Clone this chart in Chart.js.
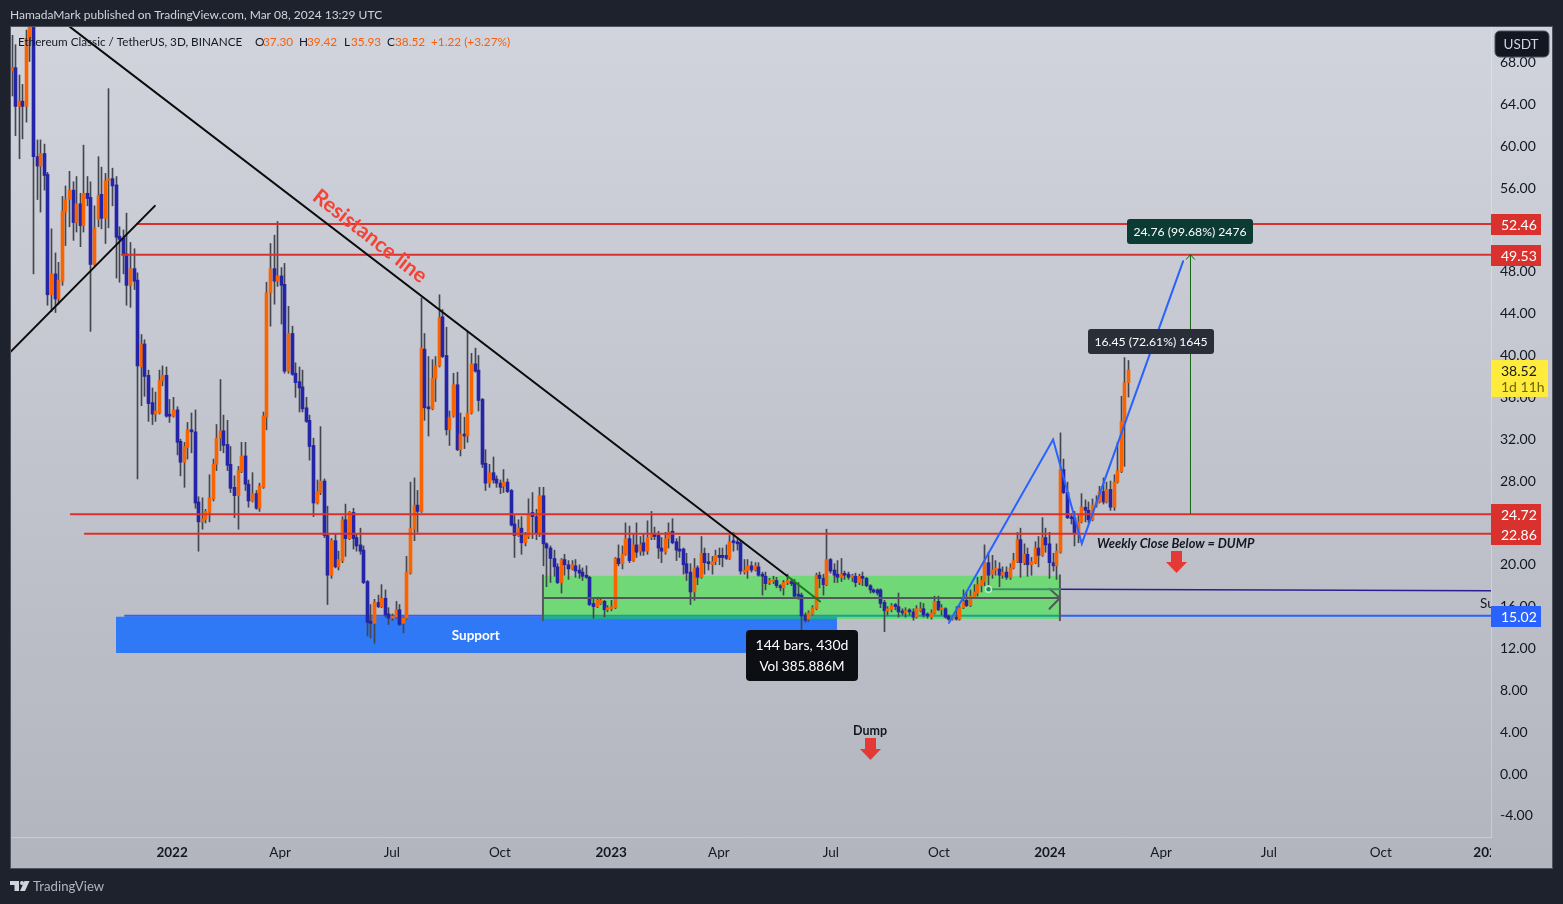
<!DOCTYPE html>
<html><head><meta charset="utf-8">
<script src="https://cdn.jsdelivr.net/npm/chart.js@4"></script>
<style>html,body{margin:0;padding:0;background:#1e222d;overflow:hidden}canvas{display:block}</style>
</head><body><canvas id="c" width="1563" height="904"></canvas>
<script>
const barOpen=[
67.1,67.4,63.7,64.2,63.7,70.2,73.5,58.9,58,59.2,
57.2,45.7,47.7,45.3,47,53.6,54.8,55.7,52.6,54.4,
52.3,55.4,55,48.6,52.9,55.3,53,56.6,56.8,56.2,
51.3,51.1,49.6,46.6,48.2,47.1,38.8,41,38,35.4,
34.3,34.4,37.5,38,34.2,34.1,34.7,31.7,29.7,31.1,
32.8,32.6,25.9,24,24.2,24.9,26.2,29.5,32,32.7,
31.4,29.5,27.3,26.5,28.8,30.3,27.6,26,26.7,25.3,
27.3,34,45.9,48.2,47,47.5,46.7,38.4,42,38.2,
37.4,36.9,34.9,33.7,31.3,25.8,26.8,27.9,22.7,18.9,
22.2,19.7,20.3,24.2,22.4,24.9,22.5,21.8,21.3,18.3,
14.5,14.3,16.3,15.9,16.7,15.2,14.8,14.9,15.6,14.3,
14.8,19.1,23.3,25.6,25,40.5,35,34.8,37.7,38.9,
43.6,39.9,32.8,34.1,37.1,30.9,32.4,32.2,34.4,39.1,
38.5,35.7,29.6,27.7,28.7,28.1,27.7,27.4,27.8,27,
23.8,22.7,23.4,22,22.6,24.9,24.5,22.9,26.5,21.9,
21.5,20.5,19.7,18.2,20.4,19.9,19.5,19.8,19.4,19.2,
18.9,18.7,16.2,15.9,16.2,16.4,15.6,15.7,15.8,20.5,
20,20.9,22.4,20.3,21.8,21.2,22,21.2,22.5,22.9,
22.7,21.5,21.1,22.4,23.1,22.1,21.4,21.4,20,19.2,
17.3,19.6,18.7,21,20.2,19.9,20.2,20.8,20.8,20.8,
20.5,22.2,22.1,22,19.2,19.3,19.8,19.4,19.7,18.9,
18.8,18.2,18.3,18.4,17.9,17.7,18.2,18.3,18.2,16.95,
17,15.1,14.7,15.2,15.7,18.9,18.6,18,20.4,19.4,
19,18.7,19,19,18.7,18.8,18.2,18.8,18.6,17.9,
17.5,17.5,17.5,16.3,15.5,15.6,16.1,15.9,15.4,15.3,
15.5,15.4,14.9,15.7,15.7,15.1,14.9,15.3,16.4,15.6,
15.7,15,14.7,14.8,14.7,15.8,16.5,16,16.8,17.2,
17.9,18.3,20.1,19,19.4,19.5,18.9,19.2,18.7,19.6,
20.2,22.3,20.1,20.9,19.9,20.1,21.5,20.8,22.5,21.9,
20.1,19.8,21.1,29,26.8,24.4,24.4,22.9,24,25.4,
25.1,24.2,25.6,25.9,26.9,25.9,27.1,25.4,27.8,28.8,
33.5,37.3];
const barClose=[
67.4,63.7,64.2,63.7,70.2,73.5,58.9,58,59.2,57.1,
45.7,47.7,45.3,47.1,53.7,54.8,55.7,52.6,54.4,52.3,
55.4,54.9,48.6,52.1,55.2,53,56.6,56.8,56.1,51.2,
51,49.5,46.6,48.2,47,38.9,41,37.9,35.3,34.3,
34.6,37.5,38,34.1,34.1,34.7,31.6,29.7,31.2,32.8,
32.6,25.8,24,24.3,25,26.3,29.5,32,32.7,31.3,
29.4,27.2,26.5,28.9,30.3,27.6,26,26.7,25.3,27.4,
34.1,45.9,48.2,47,47.5,46.6,38.4,42,38.1,37.3,
36.8,34.8,33.6,31.2,25.8,26.9,27.9,22.7,18.9,22.2,
19.7,20.4,24.2,22.4,24.9,22.4,21.7,21.2,18.2,14.4,
14.3,16.3,15.9,16.7,15.1,14.8,14.95,15.6,14.2,14.8,
19.2,23.4,25.6,25,40.6,34.9,34.8,37.7,38.9,43.5,
39.8,32.8,34,37.1,30.9,32.4,32.2,34.4,39.1,38.4,
35.6,29.5,27.7,28.7,28,27.7,27.3,27.8,26.9,23.7,
22.7,23.4,22,22.7,24.8,24.5,22.9,26.5,21.9,21.5,
20.5,19.7,18.2,20.4,19.9,19.5,19.9,19.3,19.1,18.8,
18.7,16.1,15.9,16.5,16.5,15.6,15.7,15.9,20.5,20,
20.9,22.4,20.3,21.8,21.1,21.8,21.2,22.5,22.9,22.6,
21.5,21.2,22.4,23,22,21.3,21.2,19.9,19.1,17.3,
19.6,18.7,21,20.1,20,20.2,20.8,20.6,20.6,20.5,
22.1,22,21.9,19.3,19.3,19.8,19.4,19.8,18.9,18.8,
18.1,18.3,18.4,17.9,17.7,18.2,18.3,18.1,16.9,16.9,
15,14.6,15.3,15.8,18.9,18.6,18,20.4,19.3,18.9,
18.7,19,18.9,18.7,18.8,18.2,18.8,18.6,17.9,17.5,
17.3,17.2,16.2,15.5,15.6,16,15.9,15.4,15.3,15.5,
15.4,14.9,15.7,15.7,15.1,15,15.3,16.4,15.6,15.7,
14.9,14.7,14.8,14.7,15.8,16.4,16,16.9,17.3,18,
18.4,20.1,18.9,19.4,19.5,18.9,19.2,18.7,19.6,20.3,
22.3,20.1,20.9,19.9,20.2,21.5,20.8,22.5,21.8,20.1,
19.8,21.2,29,26.8,24.4,24.3,22.9,24,25.4,25.1,
24.2,25.6,25.9,26.9,25.9,27.1,25.4,27.8,28.9,33.6,
37.3,38.52];
const barHigh=[
70.5,69.6,66.7,65.8,71,75,76,60.5,60.5,60.1,
57.4,52,49.7,48.8,55.1,56.1,57.5,56.5,57,55.4,
60,57,56.5,54.2,58.9,57.9,57.3,65.4,57.8,57,
52.2,51.9,53.5,50.7,50.1,47.8,41.9,41.4,38.5,36.8,
36.4,38.5,38.9,38.8,35.7,35.9,35,31.9,31.6,33.5,
34.4,34.7,26.4,26.3,25.2,28.5,30,33.3,37.6,34.2,
33.7,31.2,28.4,29.3,31.6,31.6,28,28.7,27,27.7,
34.5,46.9,50.6,51.4,52.7,48.3,48.7,44.6,42.7,39.2,
38.8,38.5,35.9,34.2,32,28,33.1,28.1,25.5,22.4,
22.9,21.2,24.5,25.7,25,25.3,22.8,23.4,21.7,18.4,
16.1,16.6,17,18,17.5,15.8,15.2,16.4,16.1,14.9,
20.7,27.8,28.2,27,45.4,42,39.8,39.5,39.8,45.7,
44.3,42.6,34.6,38.2,38.3,34.4,34,42.2,40.1,40.6,
39.9,35.8,30.9,29.5,30.2,28.4,28,29,28.1,27.1,
24.6,24.2,24.5,23,26.2,26.8,25.2,27.3,27.3,22,
21.7,21.3,20,20.5,20.9,20.3,20.3,20.4,19.9,19.6,
19.8,18.8,16.6,16.8,16.6,16.5,16,16.5,20.6,21.8,
21.7,23.9,23.6,22.8,23.9,22.6,22.9,24.1,25,23.5,
23.1,22.5,23,23.9,24.3,22.4,22.6,21.5,21,20,
20.5,19.8,22.6,21.5,21,20.7,21.3,21.5,21.5,21.8,
22.7,23,22.5,22.2,20.4,20.4,20.2,20.1,20.1,19.2,
19.2,18.6,18.8,18.7,18,18.4,19,18.6,18.5,18.2,
17.2,15.3,15.5,16,19.1,19.2,19,23.3,20.5,20,
20.3,20.5,19.3,19.2,19,19.1,19,19.2,18.7,18,
17.6,17.6,17.6,16.5,15.9,16.2,16.2,17.2,15.7,15.8,
15.7,15.7,16,16.3,16.2,15.3,15.6,16.9,16.9,16.1,
15.8,15.1,14.9,15.9,16,17.5,17.3,17.5,18,18.7,
18.8,21.8,21.1,20.8,20.3,20.1,19.7,19.7,20,21,
23,23.4,21.9,21.5,20.6,22.1,22.6,24.4,23.4,23,
21,21.9,32.5,30,27.8,24.8,25,24.6,26.7,26.1,
25.9,26.2,26.5,27.4,28.2,27.8,27.9,28.5,31.6,36,
39.7,39.42];
const barLow=[
64.7,60.9,58.7,60.6,62.2,68,47.7,54.8,53.6,55.7,
44.7,44.1,44,44.8,46.6,50.4,52.2,50.9,51.7,50.3,
51.7,54.2,42.2,48.5,52.2,52,50.6,52.1,54.2,47.3,
46.9,47.7,44.7,44.5,46.2,28.1,35.1,36,33.6,33.3,
33.6,34.3,37,34,33.5,34,30.4,28.4,27.3,30,
30.6,25.3,21.2,23.3,23.9,24,26,28.9,30.8,30.6,
28.9,26.8,24.4,23.3,28.7,27,25.4,25.9,25.2,25,
27.2,32.8,42.7,44.8,46.5,42.9,38.2,38.2,38,35.9,
34.5,34.5,33.5,29.9,24.5,25.7,26.6,22.5,16.1,18.6,
19.6,19.4,20.1,20.7,22.3,21.4,21.2,20.9,18.1,13.1,
12.9,12.4,15.8,15.8,14.9,14.2,14.6,14.8,14.1,13.4,
14.7,19,22.2,23,24.9,33.7,32.2,34.7,35.5,38.8,
39.7,32.3,31.3,34,30.8,30.3,31,31.6,34.3,38.3,
34.6,29.2,27,27.3,27.7,27.3,26.7,26.8,26.8,23.6,
20.6,22.6,20.9,21.7,22.4,22.4,22.3,22.6,19.8,17.8,
18.2,18.8,18.1,17.2,18.9,18.5,19.4,18.7,18.6,18.4,
18.6,16,14.8,15.8,16.1,14.9,15.4,15.5,15.7,19.8,
19.5,20.8,20.1,20.2,20.6,20.8,20.8,20.9,22.3,22.3,
20.5,20.1,20.9,21.5,21.9,20.3,20.6,19,18.4,16.1,
16.5,18,18.6,19,19.4,19,19.9,19.9,19.7,20.4,
20.4,21.2,21.3,19,19,18.6,19.2,19.3,18.8,17,
17.5,18,18.1,17.7,17.4,17,18,17.9,16.8,16.6,
12.7,14.4,14.5,15.1,15.6,17.7,17,17.9,19.1,18.2,
18.2,18.3,18.5,18.5,18.3,17.8,18,17.9,17.8,17.2,
17.2,17,15.8,13.5,15.1,15.4,15.6,14.9,15.1,14.9,
15.1,14.6,14.8,15.4,14.9,14.8,14.7,15.2,15.5,15.1,
14.8,14.6,14.6,14.6,14.6,15.7,15.9,15.9,16.7,16.9,
17.3,17.9,18,18.6,18.9,17.8,18.6,18.5,18.5,19.5,
20.1,18.7,19.9,18.8,18.9,20,19.7,20.7,21.1,18.6,
19.3,18.5,21,26.7,24.3,23.8,21.7,22,23.9,24,
23.9,24.1,25.4,25.8,25.7,25.8,25.1,25.1,27.7,28.7,
29.3,35.93];

// axes (x is counted in 3-day bars from the first visible bar)
const xTickLabels=['2022','Apr','Jul','Oct','2023','Apr','Jul','Oct','2024','Apr','Jul','Oct'];
const xTickBars=[44.6,74.7,105.8,135.9,166.9,196.9,228.1,258.2,289.1,320.1,350.1,381.3];
const yTickValues=[68,64,60,56,52,48,44,40,36,32,28,24,20,16,12,8,4,0,-4];

// drawings, in bar / price units
const resistanceTrend=[[16.16,71.3],[216.2,18.76]];
const resistanceTail=[[216.2,18.76],[225.1,16.39]];
const earlyTrend=[[-0.56,40.2],[39.8,54.2]];
const projection=[[261,14.35],[290,31.87],[298,21.92],[326.2,48.9]];
const targetStem=[[328.27,24.77],[328.27,49.53]];
const targetHead=[[327.1,49.1],[328.27,49.53],[329.4,49.1]];
const levels=[[52.46,34.8],[49.53,30.6],[24.72,16.4],[22.86,20.3]];
const supportLevel=[[31.5,15.02],[412,15.02]];
const supportBox={from:28.97,to:229.8,top:14.93,bottom:11.48};
const rangeBox={from:147.9,to:291.9,top:18.85,bottom:14.71};
const rangeLeft=[[147.9,18.9],[147.9,14.6]];
const rangeRight=[[291.9,18.9],[291.9,14.6]];
const rangeMid=[[147.9,16.73],[291.9,16.73]];
const rangeHead=[[289,17.6],[291.9,16.73],[289,15.7]];
const purpleLine=[[291.9,17.56],[412,17.42]];
const greenRay=[[272,17.55],[291.9,17.55]];
const greenDot=[[272,17.55]];

const CANVAS_FONT='Lato';
const ORANGE='#f96400',BLUE='#2424a8',WICK='#44464f',RED='#d9322e',TVBLUE='#2962ff';

function line(pts,color,width,order,extra){
  return Object.assign({type:'line',data:pts.map(p=>({x:p[0],y:p[1]})),borderColor:color,borderWidth:width,
    pointRadius:0,tension:0,fill:false,order:order,borderCapStyle:'round'},extra||{});
}
function box(b,color,order){
  return {type:'line',data:[{x:b.from,y:b.top},{x:b.to,y:b.top}],borderWidth:0,pointRadius:0,
    backgroundColor:color,fill:{value:b.bottom},order:order};
}
const idx=barOpen.map((_,i)=>i);
const datasets=[
  box(supportBox,'#2f78f6',100),
  line(supportLevel,TVBLUE,2,90),
  box(rangeBox,'rgba(0,255,0,0.4)',80),
  {type:'bar',label:'wick',data:idx.map(i=>({x:i,y:[barLow[i],barHigh[i]]})),backgroundColor:WICK,barThickness:1,grouped:false,order:50},
  {type:'bar',label:'body',data:idx.map(i=>({x:i,y:[barOpen[i],barClose[i]]})),
    backgroundColor:idx.map(i=>barClose[i]>=barOpen[i]?ORANGE:BLUE),
    barThickness:3,minBarLength:2,grouped:false,order:40},
  ...levels.map(l=>line([[l[1],l[0]],[412,l[0]]],RED,2,30)),
  line(purpleLine,'#2b1f8f',1.4,29),
  line(rangeLeft,'#55575c',2,25),line(rangeRight,'#55575c',2,25),line(rangeMid,'#55575c',2,25),line(rangeHead,'#55575c',2,25),
  line(greenRay,'#3c9061',2,24),
  line(greenDot,'#1f8a5a',1,23,{showLine:false,pointRadius:3,pointBackgroundColor:'#1f8a5a',pointBorderColor:'#b7ecc4',pointBorderWidth:1.5}),
  line(earlyTrend,'#0b0b0b',2,20),
  line(resistanceTrend,'#0b0b0b',2,20),
  line(resistanceTail,'#1a7a1a',2,19),
  line(targetStem,'#136513',1,18),
  line(targetHead,'#136513',1,18),
  line(projection,TVBLUE,2,17,{borderJoinStyle:'miter'})
];

function rrect(ctx,x,y,w,h,r,fill,stroke){
  ctx.beginPath();ctx.roundRect(x,y,w,h,r);ctx.fillStyle=fill;ctx.fill();
  if(stroke){ctx.strokeStyle=stroke;ctx.lineWidth=1;ctx.stroke();}
}
function txt(ctx,s,x,y,font,color,align){
  ctx.font=font;ctx.fillStyle=color;ctx.textAlign=align||'left';ctx.textBaseline='middle';ctx.fillText(s,x,y);
}
function downArrow(ctx,cx,top){
  ctx.fillStyle='#e53935';ctx.beginPath();
  ctx.moveTo(cx-5.5,top);ctx.lineTo(cx+5.5,top);ctx.lineTo(cx+5.5,top+11);ctx.lineTo(cx+10.5,top+11);
  ctx.lineTo(cx,top+22);ctx.lineTo(cx-10.5,top+11);ctx.lineTo(cx-5.5,top+11);ctx.closePath();ctx.fill();
}
const F=(s,w,st)=>`${st||''} ${w||400} ${s}px ${CANVAS_FONT}`.trim();

const frame={id:'frame',
  afterDatasetsUpdate(c){
    // keep candles on whole pixels, as the 3px bodies and 1px wicks are in the picture
    c.getSortedVisibleDatasetMetas().forEach(m=>{
      if(m.type==='bar') m.data.forEach(el=>{el.x=Math.round(el.x-0.5)+0.5;});
    });
  },
  beforeDraw(c){
    const x=c.ctx;x.save();
    x.fillStyle='#1e222d';x.fillRect(0,0,1563,904);
    const g=x.createLinearGradient(0,27,0,868);g.addColorStop(0,'#d1d4dc');g.addColorStop(1,'#b2b5be');
    x.fillStyle='#50535e';x.fillRect(10,26,1543,843);
    x.fillStyle=g;x.fillRect(11,27,1541,841);
    txt(x,'HamadaMark published on TradingView.com, Mar 08, 2024 13:29 UTC',10,15,F(12),'#d1d4dc');
    x.fillStyle='#d1d4dc';
    x.fillRect(10,881,9,4);x.fillRect(14.5,881,4.5,10);
    x.beginPath();x.arc(22,883,2,0,7);x.fill();
    x.beginPath();x.moveTo(24.5,881);x.lineTo(29.5,881);x.lineTo(25,891);x.lineTo(20,891);x.closePath();x.fill();
    txt(x,'TradingView',33,886.5,F(13.2),'#b2b5be');
    x.restore();
  },
  afterDraw(c){
    const x=c.ctx,S=c.scales.y,X=c.scales.x;x.save();
    const a=c.chartArea;
    x.save();x.beginPath();x.rect(a.left,a.top,a.right-a.left,a.bottom-a.top);x.clip();
    x.save();x.translate(X.getPixelForValue(99.7),S.getPixelForValue(51.3));x.rotate(37.8*Math.PI/180);
    txt(x,'Resistance line',0,0,F(21,700),'#f44336','center');x.restore();
    txt(x,'Support',X.getPixelForValue(129.2),S.getPixelForValue(13.2)+1,F(13.5,700),'#ffffff','center');
    txt(x,'Support',1480,604,F(13.5),'#131722');
    txt(x,'Weekly Close Below = DUMP',1097,543.5,F(12.8,700,'italic'),'#131722');
    txt(x,'Dump',870,730.5,F(12.5,700),'#131722','center');
    x.restore();
    downArrow(x,1176.5,551);downArrow(x,870.5,738);
    rrect(x,746,630,112,51,4,'#0c0e13');
    txt(x,'144 bars, 430d',802,645,F(14),'#ffffff','center');
    txt(x,'Vol 385.886M',802,667,F(13.5),'#ffffff','center');
    rrect(x,1127,219,126,25,3,'#0b3b33');
    txt(x,'24.76 (99.68%) 2476',1190,232,F(12.2),'#ffffff','center');
    rrect(x,1088,329,126,25,3,'#2a2e39');
    txt(x,'16.45 (72.61%) 1645',1151,342,F(12.2),'#ffffff','center');
    x.save();x.beginPath();x.rect(a.left,a.bottom,a.right-a.left,40);x.clip();
    txt(x,'2025',1489,852.5,F(13.5,700),'#131722','center');x.restore();
    txt(x,'Ethereum Classic / TetherUS, 3D, BINANCE',18,42.5,F(11.7),'#131722');
    [['O',255,'37.30',263],['H',299,'39.42',307],['L',344,'35.93',351],['C',387,'38.52',395]].forEach(r=>{
      txt(x,r[0],r[1],42.5,F(11.8),'#131722');txt(x,r[2],r[3],42.5,F(11.8),'#f65f0b');
    });
    txt(x,'+1.22 (+3.27%)',431,42.5,F(11.8),'#f65f0b');
    const tag=(t,y0,y1,col,fg)=>{x.fillStyle=col;x.fillRect(1491,y0,50,y1-y0);
      txt(x,t,1501,(y0+y1)/2+.5,F(14),fg||'#fff');};
    tag('52.46',214,235,RED);
    tag('49.53',245,266,RED);
    x.fillStyle=RED;x.fillRect(1491,504,50,41);
    txt(x,'24.72',1501,515,F(14),'#fff');txt(x,'22.86',1501,535,F(14),'#fff');
    tag('15.02',606,627,TVBLUE);
    x.fillStyle='#ffeb3b';x.fillRect(1491,360,57,37);
    txt(x,'38.52',1501,371.5,F(14),'#131722');txt(x,'1d 11h',1501,387.5,F(14),'#6e6410');
    rrect(x,1495,31,54,26,5,'#131722','#50535e');
    txt(x,'USDT',1521,44.5,F(13.5),'#d1d4dc','center');
    x.restore();
  }
};

new Chart(document.getElementById('c'),{
  type:'bar',
  data:{datasets},
  plugins:[frame],
  options:{
    responsive:false,animation:false,devicePixelRatio:1,
    layout:{autoPadding:false,padding:{left:11,top:27,right:0,bottom:0}},
    plugins:{legend:{display:false},tooltip:{enabled:false},title:{display:false}},
    events:[],
    scales:{
      x:{type:'linear',position:'bottom',min:-0.2786,max:411.98,offset:false,
        grid:{display:false,drawTicks:false,offset:false},
        border:{display:true,color:'rgba(255,255,255,0.28)',width:1},
        afterFit(s){s.height=67;},
        afterBuildTicks(s){s.ticks=xTickBars.map(v=>({value:v}));},
        ticks:{autoSkip:false,maxRotation:0,minRotation:0,padding:8,color:'#131722',
          callback:(v,i)=>xTickLabels[i],
          font:ctx=>({family:CANVAS_FONT,size:13.5,weight:/^\d{4}$/.test(xTickLabels[ctx.index]||'')?'700':'400'})}
      },
      y:{type:'linear',position:'right',min:-6.115,max:71.29,
        grid:{display:false,drawTicks:false},
        border:{display:true,color:'rgba(255,255,255,0.28)',width:1},
        afterFit(s){s.width=72;},
        afterBuildTicks(s){s.ticks=yTickValues.map(v=>({value:v}));},
        ticks:{autoSkip:false,crossAlign:'near',padding:9,color:'#131722',labelOffset:1,
          callback:v=>Number(v).toFixed(2),font:{family:CANVAS_FONT,size:14}}
      }
    }
  }
});
</script></body></html>
